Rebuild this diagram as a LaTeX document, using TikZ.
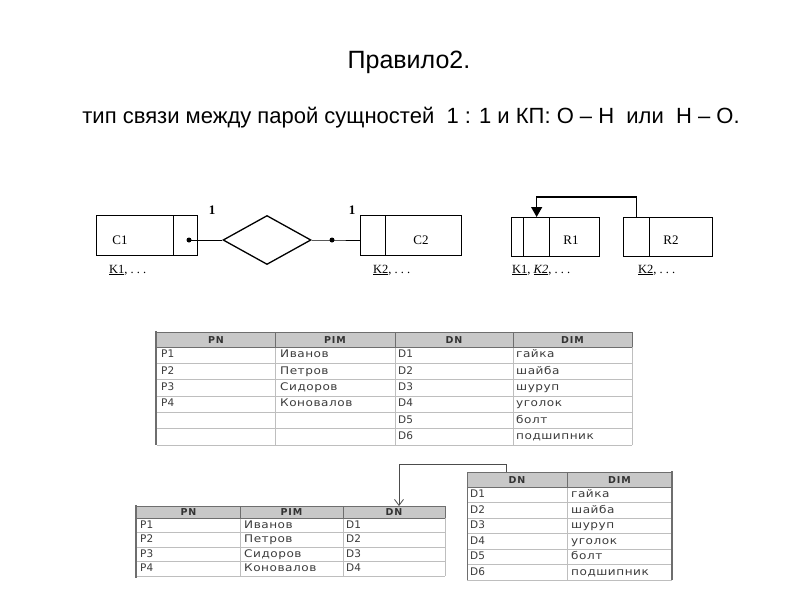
\documentclass[tikz,border=0pt]{standalone}
\usepackage{fontspec}
\setmainfont{Liberation Sans}
\newfontfamily\serifer{Liberation Serif}
\newfontfamily\tabfont{DejaVu Sans}
\newfontfamily\tabfontcyr[FakeStretch=1.15,LetterSpace=5]{DejaVu Sans}
\newfontfamily\tabfonthd[LetterSpace=9]{DejaVu Sans}
\usetikzlibrary{arrows.meta,shapes.geometric}
\definecolor{hdrfill}{RGB}{200,200,200}
\definecolor{gridc}{RGB}{190,190,190}
\definecolor{hdrln}{RGB}{110,110,110}
\definecolor{celltxt}{RGB}{60,60,60}
\tikzset{
  ebox/.style={draw, line width=1.3pt, inner sep=0pt, anchor=north west},
  dotn/.style={circle, fill, inner sep=0pt, minimum size=5pt},
  erlbl/.style={font=\serifer\fontsize{13}{15}\selectfont},
  cardlbl/.style={font=\serifer\bfseries\fontsize{13}{15}\selectfont},
  keylbl/.style={font=\serifer\fontsize{12.5}{14}\selectfont, anchor=west, inner sep=0pt},
  cell/.style={font=\tabfont\fontsize{10.5}{13}\selectfont, text=celltxt, anchor=west, inner sep=0pt, text height=7.5pt, text depth=2pt},
  cellr/.style={cell, font=\tabfontcyr\fontsize{10.5}{13}\selectfont},
  hcell/.style={font=\tabfonthd\bfseries\fontsize{9.5}{12}\selectfont, text=black!80, inner sep=0pt, text height=7pt, text depth=0pt},
  gridl/.style={draw=gridc, line width=0.6pt},
  hdrl/.style={draw=hdrln, line width=0.8pt},
  thick border/.style={draw=hdrln, line width=1.8pt}
}
\begin{document}
\begin{tikzpicture}[x=1pt,y=-1pt]
\useasboundingbox[fill=white] (0,0) rectangle (800,600);

% titles
\node[font=\fontsize{25}{28}\selectfont, anchor=base, inner sep=0pt] (title) at (409,68) {Правило2.};
\node[font=\fontsize{22}{26}\selectfont, anchor=base, inner sep=0pt] (sub) at (411,123) {тип связи между парой сущностей\ \ 1 : 1 и КП: О – Н\ \ или\ \ Н – О.};

% ---- ER diagram left
\node[ebox, minimum width=77pt, minimum height=40pt] (c1a) at (96,215) {};
\node[ebox, minimum width=24pt, minimum height=40pt] (c1b) at (173,215) {};
\node[erlbl] (c1t) at (120,240) {C1};
\node[draw, line width=1.3pt, diamond, minimum width=88pt, minimum height=49pt, inner sep=0pt] (dia) at (267,240) {};
\node[ebox, minimum width=25pt, minimum height=40pt] (c2a) at (360,215) {};
\node[ebox, minimum width=76pt, minimum height=40pt] (c2b) at (385,215) {};
\node[erlbl] (c2t) at (421,240) {C2};
\node[dotn] (d1) at (189,240) {};
\node[dotn] (d2) at (332,240) {};
\draw[line width=1pt] (d1.center) -- (dia.west);
\draw[line width=1pt] (dia.east) -- (d2.center) -- (d2.center -| c2a.west);
\node[cardlbl] (n1) at (212,210) {1};
\node[cardlbl] (n2) at (352,210) {1};
\node[keylbl] (k1) at (109,270) {\underline{K1}, .\ .\ .};
\node[keylbl] (k2) at (373,270) {\underline{K2}, .\ .\ .};

% ---- ER diagram right
\node[ebox, minimum width=12pt, minimum height=39pt] (r1a) at (511,217) {};
\node[ebox, minimum width=26pt, minimum height=39pt] (r1b) at (523,217) {};
\node[ebox, minimum width=50pt, minimum height=39pt] (r1c) at (549,217) {};
\node[erlbl] (r1t) at (571,240) {R1};
\node[ebox, minimum width=26pt, minimum height=39pt] (r2a) at (623,217) {};
\node[ebox, minimum width=63pt, minimum height=39pt] (r2b) at (649,217) {};
\node[erlbl] (r2t) at (671,240) {R2};
\draw[line width=1.2pt, -{Triangle[length=10pt,width=11pt]}] (r2a.north) -- ++(0,-20) -| (r1b.north);
\node[keylbl] (k3) at (512,270) {\underline{K1}, \underline{\itshape K2}, .\ .\ .};
\node[keylbl] (k4) at (638,270) {\underline{K2}, .\ .\ .};

% ---- Table 1
\fill[hdrfill] (157,332) rectangle (632,347);
\foreach \i in {1,...,6} \draw[gridl] (157,{347+\i*16.33}) -- (632,{347+\i*16.33});
\foreach \x in {275,395,513,632} \draw[gridl] (\x,347) -- (\x,445);
\foreach \x in {275,395,513,632} \draw[hdrl] (\x,332) -- (\x,347);
\draw[hdrl] (157,332) -- (632,332);
\draw[hdrl] (157,347) -- (632,347);
\draw[thick border] (156,331) -- (156,445);
\foreach \t/\cx [count=\j] in {PN/216,PIM/335,DN/454,DIM/572.5}
  \node[hcell] (ta-h\j) at (\cx,340) {\t};
\foreach \a/\b/\c/\d [count=\i] in {P1/Иванов/D1/гайка, P2/Петров/D2/шайба, P3/Сидоров/D3/шуруп, P4/Коновалов/D4/уголок, {}/{}/D5/болт, {}/{}/D6/подшипник}{
  \node[cell] (ta-\i-1) at (161,{347+(\i-0.5)*16.33}) {\a};
  \node[cellr] (ta-\i-2) at (280,{347+(\i-0.5)*16.33}) {\b};
  \node[cell] (ta-\i-3) at (398,{347+(\i-0.5)*16.33}) {\c};
  \node[cellr] (ta-\i-4) at (516,{347+(\i-0.5)*16.33}) {\d};
}

% ---- Table 2
\fill[hdrfill] (137,506) rectangle (445,518);
\foreach \i in {1,...,4} \draw[gridl] (137,{518+\i*14.5}) -- (445,{518+\i*14.5});
\foreach \x in {240,343,445} \draw[gridl] (\x,518) -- (\x,576);
\foreach \x in {240,343,445} \draw[hdrl] (\x,506) -- (\x,518);
\draw[hdrl] (137,506) -- (445,506);
\draw[hdrl] (137,518) -- (445,518);
\draw[thick border] (136,505) -- (136,578);
\foreach \t/\cx [count=\j] in {PN/188.5,PIM/291.5,DN/394}
  \node[hcell] (tb-h\j) at (\cx,512) {\t};
\foreach \a/\b/\c [count=\i] in {P1/Иванов/D1, P2/Петров/D2, P3/Сидоров/D3, P4/Коновалов/D4}{
  \node[cell] (tb-\i-1) at (140,{518+(\i-0.5)*14.5}) {\a};
  \node[cellr] (tb-\i-2) at (244,{518+(\i-0.5)*14.5}) {\b};
  \node[cell] (tb-\i-3) at (346,{518+(\i-0.5)*14.5}) {\c};
}

% ---- Table 3
\fill[hdrfill] (467,472) rectangle (672,487);
\foreach \i in {1,...,6} \draw[gridl] (467,{487+\i*15.5}) -- (672,{487+\i*15.5});
\draw[gridl] (567,487) -- (567,580);
\draw[hdrl] (567,472) -- (567,487);
\draw[hdrl] (467,472) -- (672,472);
\draw[hdrl] (467,487) -- (672,487);
\draw[hdrl] (467,472) -- (467,580);
\draw[thick border] (672,471) -- (672,580);
\foreach \t/\cx [count=\j] in {DN/517,DIM/619.5}
  \node[hcell] (tc-h\j) at (\cx,479.5) {\t};
\foreach \a/\b [count=\i] in {D1/гайка, D2/шайба, D3/шуруп, D4/уголок, D5/болт, D6/подшипник}{
  \node[cell] (tc-\i-1) at (470,{487+(\i-0.5)*15.5}) {\a};
  \node[cellr] (tc-\i-2) at (571,{487+(\i-0.5)*15.5}) {\b};
}

% ---- FK arrow between tables
\coordinate (fkfrom) at (506,472);
\coordinate (fkto) at (399,506);
\draw[draw=black!70, line width=0.8pt, -{Straight Barb[length=6pt,width=9pt]}] (fkfrom) -- ++(0,-8) -| (fkto);
\end{tikzpicture}
\end{document}
